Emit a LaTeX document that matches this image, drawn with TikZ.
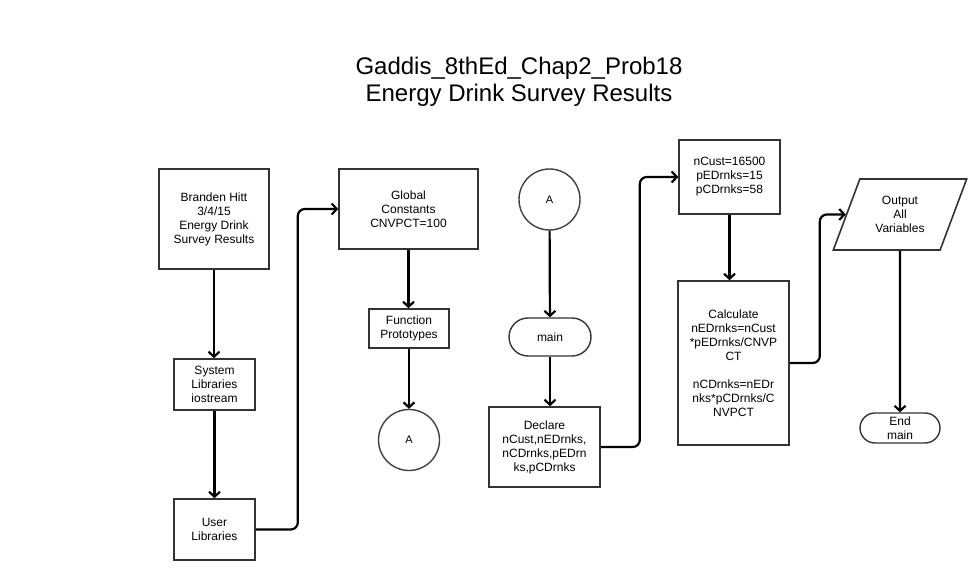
\documentclass[tikz,border=0pt]{standalone}
\usepackage{fontspec}
\setmainfont{Liberation Sans}
\usetikzlibrary{arrows.meta,shapes.geometric,shapes.misc}
\tikzset{box/.style={draw=black!80, line width=1.6pt, align=center, inner sep=0pt, font=\fontsize{12}{14}\selectfont}}
\tikzset{flow/.style={line width=2.2pt, -{Straight Barb[length=5pt,width=11pt]}, rounded corners=7pt}}

\begin{document}
\begin{tikzpicture}[x=1pt, y=-1pt,
		conn/.style={circle, draw=black!75, line width=1.4pt, minimum size=61pt, inner sep=0pt, font=\fontsize{11}{13}\selectfont},
		term/.style={box, rounded rectangle, line width=1.4pt},
		io/.style={box, trapezium, trapezium left angle=66, trapezium right angle=114, trapezium stretches=true}
		]    % y runs downwards, so positions are read off the scan
		\useasboundingbox (0,0) rectangle (975,580);
		\node[font=\fontsize{24}{27}\selectfont, align=center] (title) at (519,81.5) {Gaddis\_8thEd\_Chap2\_Prob18\\Energy Drink Survey Results};
		% first column: header and libraries
		\node[box, minimum width=110, minimum height=100] (head) at (214,219) {Branden Hitt\\3/4/15\\Energy Drink\\Survey Results};
		\node[box, minimum width=81, minimum height=51] (syslib) at (214.5,384.5) {System\\Libraries\\iostream};
		\node[box, minimum width=81, minimum height=61] (usrlib) at (214.5,529.5) {User\\Libraries};
		\node[box, minimum width=139, minimum height=80] (glob) at (408.5,209) {Global\\Constants\\CNVPCT=100};
		\node[box, minimum width=80, minimum height=39] (proto) at (409,328.5) {Function\\Prototypes};
		\node[conn] (offA) at (409,440) {A};
		% main program
		\node[conn] (onA) at (549.5,199.5) {A};
		\node[term, minimum width=82, minimum height=38] (main) at (550,337) {main};
		\node[box, minimum width=111, minimum height=80] (decl) at (544.5,447) {Declare\\nCust,nEDrnks,\\nCDrnks,pEDrn\\ks,pCDrnks};
		\node[box, minimum width=101, minimum height=74] (init) at (729.5,177) {nCust=16500\\pEDrnks=15\\pCDrnks=58};
		\node[box, minimum width=111, minimum height=164] (calc) at (733.5,363) {Calculate\\nEDrnks=nCust\\*pEDrnks/CNVP\\CT\\ \mbox{}\\nCDrnks=nEDr\\nks*pCDrnks/C\\NVPCT};
		\node[io, minimum width=134, minimum height=71] (outp) at (900,214.5) {Output\\All\\Variables};
		\node[term, minimum width=80, minimum height=30] (endm) at (900,428) {End\\main};
		% connectors
		\draw[flow] (head.south) -- (head.south |- syslib.north);
		\draw[flow] (syslib) -- (usrlib);
		\draw[flow] (usrlib.east) -- ++(42,0) |- (glob.west);
		\draw[flow] (glob.south) -- (glob.south |- proto.north);
		\draw[flow] (proto) -- (offA);
		\draw[flow] (onA) -- (main);
		\draw[flow] (main.south) -- (main.south |- decl.north);
		\draw[flow] (decl.east) -- ++(39,0) |- (init.west);
		\draw[flow] (init.south) -- (init.south |- calc.north);
		\draw[flow] (calc.east) -- ++(30,0) |- (outp.west);
		\draw[flow] (outp) -- (endm);
	\end{tikzpicture}
\end{document}
